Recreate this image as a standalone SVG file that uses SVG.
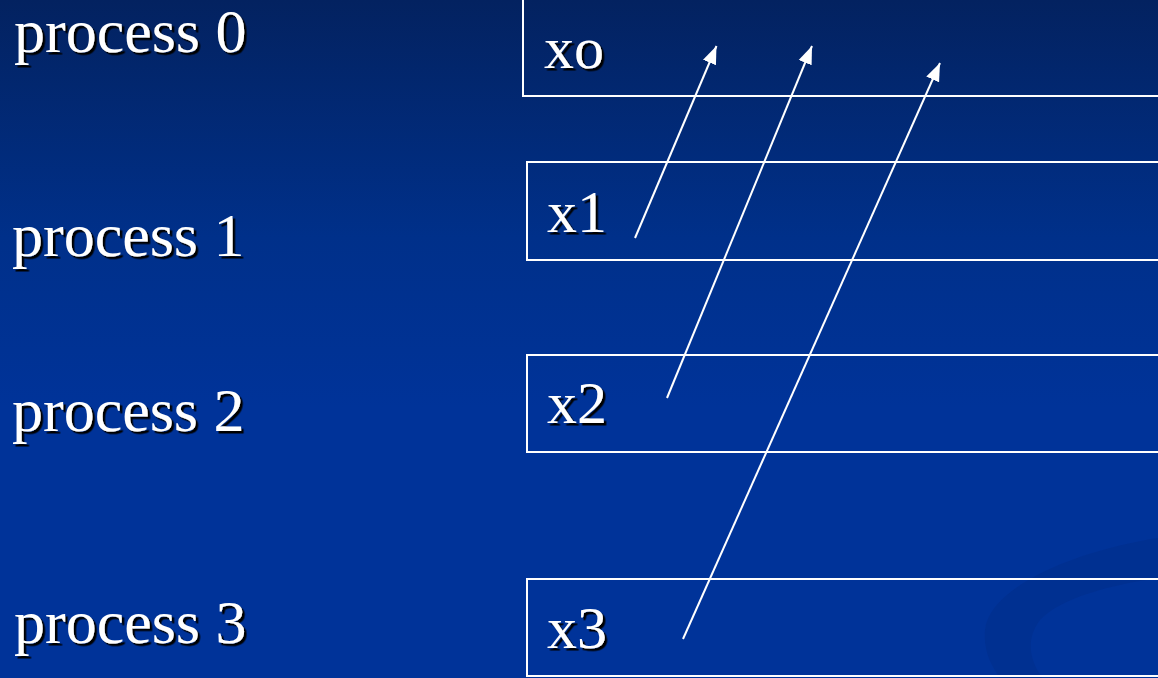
<svg xmlns="http://www.w3.org/2000/svg" width="1158" height="678" viewBox="0 0 1158 678">
  <defs>
    <linearGradient id="bg" x1="0" y1="0" x2="0" y2="1">
      <stop offset="0" stop-color="#032260"/>
      <stop offset="0.35" stop-color="#00308a"/>
      <stop offset="0.6" stop-color="#003399"/>
      <stop offset="1" stop-color="#003399"/>
    </linearGradient>
    <filter id="shadow" x="-10%" y="-20%" width="130%" height="150%">
      <feDropShadow dx="2.5" dy="2.5" stdDeviation="0.4" flood-color="#000000" flood-opacity="1"/>
    </filter>
    <marker id="arrow" markerWidth="20" markerHeight="16" refX="18" refY="8" orient="auto" markerUnits="userSpaceOnUse">
      <path d="M0,1 L18,8 L0,15 Z" fill="#ffffff"/>
    </marker>
  </defs>
  <style>
    .lbl { font-family: "Liberation Serif", "DejaVu Serif", serif; font-size: 60px; fill: #ffffff; filter: url(#shadow); }
    .proc { font-size: 62px; }
    .box { fill: none; stroke: #ffffff; stroke-width: 2; }
    .conn { stroke: #ffffff; stroke-width: 2; fill: none; marker-end: url(#arrow); }
  </style>
  <rect x="0" y="0" width="1158" height="678" fill="url(#bg)"/>
  <path d="M1158,538 C1080,550 990,585 985,630 C983,655 995,670 1000,678 L1042,678 C1030,660 1025,640 1040,620 C1060,598 1110,585 1158,578 Z" fill="#00308f" opacity="0.8"/>

  <g id="labels">
    <text class="lbl proc" x="14" y="52">process 0</text>
    <text class="lbl proc" x="12" y="256">process 1</text>
    <text class="lbl proc" x="12" y="431">process 2</text>
    <text class="lbl proc" x="14" y="643">process 3</text>
  </g>

  <g id="node-x0">
    <rect class="box" x="523" y="-10" width="650" height="106"/>
    <text class="lbl" x="544" y="68">xo</text>
  </g>
  <g id="node-x1">
    <rect class="box" x="527" y="162" width="650" height="98"/>
    <text class="lbl" x="547" y="232">x1</text>
  </g>
  <g id="node-x2">
    <rect class="box" x="527" y="355" width="650" height="97"/>
    <text class="lbl" x="547" y="423">x2</text>
  </g>
  <g id="node-x3">
    <rect class="box" x="527" y="579" width="650" height="97"/>
    <text class="lbl" x="547" y="648">x3</text>
  </g>

  <g id="connectors">
    <line class="conn" x1="635" y1="238" x2="716.5" y2="46"/>
    <line class="conn" x1="667" y1="398" x2="812" y2="46"/>
    <line class="conn" x1="683" y1="639" x2="940" y2="63"/>
  </g>
</svg>
